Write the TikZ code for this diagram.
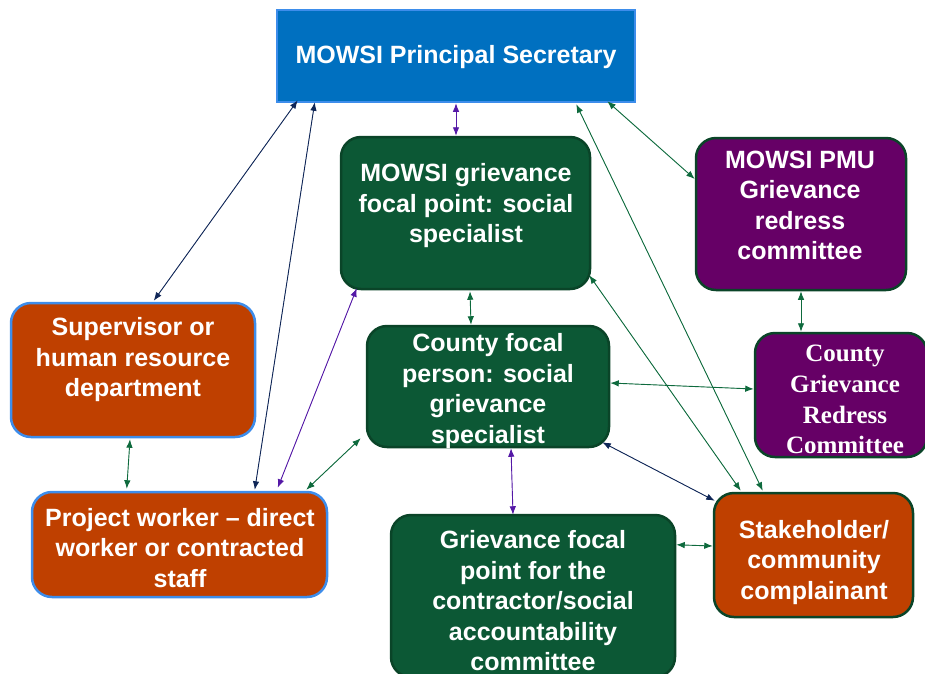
\documentclass[tikz,border=0pt]{standalone}
\usepackage{fontspec}
\setmainfont{Liberation Sans}
\newfontfamily\grcserif{Liberation Serif}
\usetikzlibrary{arrows.meta,calc}
\definecolor{psblue}{HTML}{0070C0}
\definecolor{psborder}{HTML}{3D8DEB}
\definecolor{boxgreen}{HTML}{0C5835}
\definecolor{greenborder}{HTML}{0A4428}
\definecolor{boxpurple}{HTML}{660066}
\definecolor{boxorange}{HTML}{BF4000}
\definecolor{arrnavy}{HTML}{0F2657}
\definecolor{arrpurple}{HTML}{5418A6}
\definecolor{arrgreen}{HTML}{0E6A3D}
\tikzset{
  box/.style={rectangle, inner sep=0pt, line width=2.5pt, rounded corners=20pt},
  greenbox/.style={box, fill=boxgreen, draw=greenborder},
  purplebox/.style={box, fill=boxpurple, draw=greenborder},
  orangebox/.style={box, fill=boxorange, draw=psborder},
  orangeboxg/.style={box, fill=boxorange, draw=greenborder},
  label/.style={text=white, align=center, font=\fontsize{25}{30.5}\selectfont\bfseries, inner sep=0pt},
  seriflabel/.style={text=white, align=center, font=\fontsize{25}{30.7}\selectfont\grcserif\bfseries, inner sep=0pt},
  link/.style={line width=0.9pt, {Latex[length=8.5pt,width=6.5pt]}-{Latex[length=8.5pt,width=6.5pt]}},
  navylink/.style={link, draw=arrnavy, fill=arrnavy},
  purplelink/.style={link, draw=arrpurple, fill=arrpurple},
  greenlink/.style={link, draw=arrgreen, fill=arrgreen}
}
\begin{document}
\begin{tikzpicture}[x=1pt, y=-1pt]
\useasboundingbox (0,0) rectangle (925,673);
% boxes
\node[rectangle, inner sep=0pt, line width=2.5pt, fill=psblue, draw=psborder,
      minimum width=358pt, minimum height=92pt] (ps) at (456,56) {};
\node[greenbox, minimum width=249pt, minimum height=152pt] (mg) at (465.5,213) {};
\node[purplebox, minimum width=210pt, minimum height=152pt] (pmu) at (801,214) {};
\node[orangebox, minimum width=244pt, minimum height=134pt] (sup) at (133,370) {};
\node[greenbox, minimum width=242pt, minimum height=121pt] (cf) at (488,386.5) {};
\node[purplebox, minimum width=172pt, minimum height=124pt] (grc) at (841,395) {};
\node[orangebox, minimum width=295pt, minimum height=105pt] (pw) at (179.5,544.5) {};
\node[greenbox, minimum width=284pt, minimum height=162pt] (gc) at (533,596) {};
\node[orangeboxg, minimum width=199pt, minimum height=124pt] (sh) at (813.5,555) {};
% texts
\node[label] (pst) at ($(ps.center)+(0,1.5)$) {MOWSI Principal Secretary};
\node[label] (mgt) at (466,206) {MOWSI grievance\\focal point: social\\specialist};
\node[label] (pmut) at (800,205.5) {MOWSI PMU\\Grievance\\redress\\committee};
\node[label] (supt) at (133,360) {Supervisor or\\human resource\\department};
\node[label] (cft) at (488,391) {County focal\\person: social\\grievance\\specialist};
\node[seriflabel] (grct) at (845,399.5) {County\\Grievance\\Redress\\Committee};
\node[label] (pwt) at (180,548) {Project worker – direct\\worker or contracted\\staff};
\node[label] (gct) at (533,601) {Grievance focal\\point for the\\contractor/social\\accountability\\committee};
\node[label] (sht) at (814,562.5) {Stakeholder/\\community\\complainant};
% connectors
\draw[navylink] ($(ps.south west)+(22,-3)$) -- ($(sup.north west)+(144,-1)$);
\draw[navylink] ($(ps.south west)+(39,-1)$) -- ($(pw.north west)+(224,-1)$);
\draw[purplelink] (ps.south) -- (ps.south |- mg.north);
\draw[greenlink] ($(ps.south east)+(-29,-2)$) -- ($(pmu.west)+(0,-35)$);
\draw[greenlink] ($(ps.south east)+(-60,1)$) -- ($(sh.north west)+(50,-1)$);
\draw[greenlink] ($(mg.south east)+(-2,-15)$) -- ($(sh.north west)+(28,-1)$);
\draw[greenlink] ($(mg.south)+(4.5,1)$) -- ($(cf.north)+(-17,0)$);
\draw[purplelink] ($(mg.south west)+(17,-2)$) -- ($(pw.north west)+(247,-3)$);
\draw[greenlink] (pmu.south) -- (pmu.south |- grc.north);
\draw[greenlink] ($(cf.east)+(0,-3.5)$) -- ($(grc.west)+(0,-6)$);
\draw[navylink] ($(cf.south east)+(-8,-6)$) -- ($(sh.north west)+(2,9)$);
\draw[greenlink] ($(cf.south west)+(-5,-10)$) -- ($(pw.north east)+(-22,-1)$);
\draw[purplelink] ($(cf.south)+(23,0)$) -- ($(gc.north)+(-20,1)$);
\draw[greenlink] ($(gc.north east)+(0,31)$) -- ($(sh.west)+(0,-9)$);
\draw[greenlink] ($(sup.south)+(-3,1)$) -- ($(pw.north west)+(96,-2)$);
\end{tikzpicture}
\end{document}
